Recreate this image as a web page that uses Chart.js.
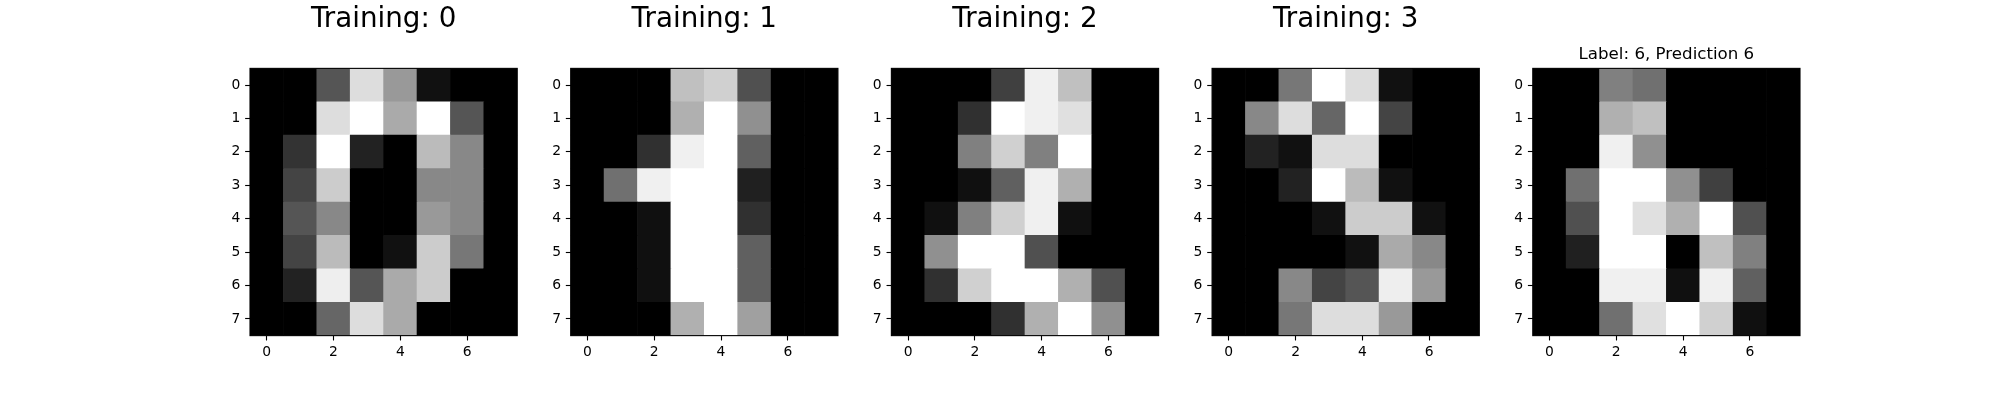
<!DOCTYPE html>
<html>
<head>
<meta charset="utf-8">
<script src="https://cdn.jsdelivr.net/npm/chart.js@4.4.0/dist/chart.umd.min.js"></script>
<style>
body{margin:0;background:#fff;}
#quadro{position:relative;width:2000px;height:400px;}
canvas{position:absolute;left:0;top:0;}
</style>
</head>
<body>
<div id="quadro"></div>
<script>
const titulos = ["Training: 0", "Training: 1", "Training: 2", "Training: 3", "Label: 6, Prediction 6"];

const digito0 = [
    [0, 0, 5, 13, 9, 1, 0, 0],
    [0, 0, 13, 15, 10, 15, 5, 0],
    [0, 3, 15, 2, 0, 11, 8, 0],
    [0, 4, 12, 0, 0, 8, 8, 0],
    [0, 5, 8, 0, 0, 9, 8, 0],
    [0, 4, 11, 0, 1, 12, 7, 0],
    [0, 2, 14, 5, 10, 12, 0, 0],
    [0, 0, 6, 13, 10, 0, 0, 0]
];
const digito1 = [
    [0, 0, 0, 12, 13, 5, 0, 0],
    [0, 0, 0, 11, 16, 9, 0, 0],
    [0, 0, 3, 15, 16, 6, 0, 0],
    [0, 7, 15, 16, 16, 2, 0, 0],
    [0, 0, 1, 16, 16, 3, 0, 0],
    [0, 0, 1, 16, 16, 6, 0, 0],
    [0, 0, 1, 16, 16, 6, 0, 0],
    [0, 0, 0, 11, 16, 10, 0, 0]
];
const digito2 = [
    [0, 0, 0, 4, 15, 12, 0, 0],
    [0, 0, 3, 16, 15, 14, 0, 0],
    [0, 0, 8, 13, 8, 16, 0, 0],
    [0, 0, 1, 6, 15, 11, 0, 0],
    [0, 1, 8, 13, 15, 1, 0, 0],
    [0, 9, 16, 16, 5, 0, 0, 0],
    [0, 3, 13, 16, 16, 11, 5, 0],
    [0, 0, 0, 3, 11, 16, 9, 0]
];
const digito3 = [
    [0, 0, 7, 15, 13, 1, 0, 0],
    [0, 8, 13, 6, 15, 4, 0, 0],
    [0, 2, 1, 13, 13, 0, 0, 0],
    [0, 0, 2, 15, 11, 1, 0, 0],
    [0, 0, 0, 1, 12, 12, 1, 0],
    [0, 0, 0, 0, 1, 10, 8, 0],
    [0, 0, 8, 4, 5, 14, 9, 0],
    [0, 0, 7, 13, 13, 9, 0, 0]
];
const previsto6 = [
    [0, 0, 8, 7, 0, 0, 0, 0],
    [0, 0, 11, 12, 0, 0, 0, 0],
    [0, 0, 15, 9, 0, 0, 0, 0],
    [0, 7, 16, 16, 9, 4, 0, 0],
    [0, 5, 16, 14, 11, 16, 5, 0],
    [0, 2, 16, 16, 0, 12, 8, 0],
    [0, 0, 15, 15, 1, 15, 6, 0],
    [0, 0, 7, 14, 16, 13, 1, 0]
];

const imagens = [digito0, digito1, digito2, digito3, previsto6];
const ticksX = [0, 2, 4, 6];
const ticksY = [0, 1, 2, 3, 4, 5, 6, 7];

// geometria das subplots (figura 20x4 pol, 100 dpi, 1x5)
const lado = 1550 / 5.8;
const espaco = lado * 0.2;
const topo = 202 - lado / 2;
const base = topo + lado;
const largEixoY = 50;
const altEixoX = 40;
const fonte = "DejaVu Sans";

// cmap 'gray' do matplotlib, normalizado pelo máximo da imagem
function cinza(v, max){
    const i = Math.min(255, Math.floor(v / max * 256));
    return `rgb(${i},${i},${i})`;
}

const moldura = {
    id: "moldura",
    afterDraw(chart){
        const {ctx, chartArea: a} = chart;
        ctx.save();
        ctx.strokeStyle = "#000";
        ctx.lineWidth = 1.11;
        ctx.strokeRect(a.left, a.top, a.right - a.left, a.bottom - a.top);
        ctx.restore();
    }
};

imagens.forEach((img, k) => {
    const canvas = document.createElement("canvas");
    canvas.width = 2000;
    canvas.height = 400;
    document.getElementById("quadro").appendChild(canvas);

    const max = Math.max(...img.flat());
    const pontos = [];
    const cores = [];
    img.forEach((linha, r) => {
        linha.forEach((v, c) => {
            pontos.push({x: c, y: [r - 0.5, r + 0.5]});
            cores.push(cinza(v, max));
        });
    });

    const esquerda = 250 + k * (lado + espaco);
    const pequeno = k === imagens.length - 1;
    const tamTitulo = pequeno ? 16.67 : 27.78;
    const linhaBase = pequeno ? topo - 8.33 : 28.3;
    const meio = linhaBase - 0.297 * tamTitulo;
    const padTopo = meio - tamTitulo * 0.6;
    const padTitulo = topo - padTopo - tamTitulo * 1.2;

    new Chart(canvas, {
        type: "bar",
        data: {
            datasets: [{
                data: pontos,
                backgroundColor: cores,
                borderWidth: 0,
                barPercentage: 1,
                categoryPercentage: 1
            }]
        },
        options: {
            responsive: false,
            animation: false,
            layout: {
                padding: {
                    left: esquerda - largEixoY,
                    right: 2000 - esquerda - lado - largEixoY,
                    top: padTopo,
                    bottom: 400 - base - altEixoX
                }
            },
            plugins: {
                legend: {display: false},
                tooltip: {enabled: false},
                title: {
                    display: true,
                    text: titulos[k],
                    color: "#000",
                    font: {family: fonte, size: tamTitulo, weight: "normal", lineHeight: 1.2},
                    padding: {top: 0, bottom: padTitulo}
                }
            },
            scales: {
                x: {
                    type: "linear",
                    min: -0.5,
                    max: 7.5,
                    offset: false,
                    afterBuildTicks: s => { s.ticks = ticksX.map(v => ({value: v})); },
                    afterFit: s => { s.height = altEixoX; },
                    border: {display: false},
                    grid: {drawOnChartArea: false, offset: false, tickLength: 4.86, tickColor: "#000", tickWidth: 1.11},
                    ticks: {color: "#000", padding: 3.8, autoSkip: false, maxRotation: 0,
                        font: {family: fonte, size: 13.89}, callback: v => String(v)}
                },
                y: {
                    type: "linear",
                    min: -0.5,
                    max: 7.5,
                    reverse: true,
                    afterBuildTicks: s => { s.ticks = ticksY.map(v => ({value: v})); },
                    afterFit: s => { s.width = largEixoY; },
                    border: {display: false},
                    grid: {drawOnChartArea: false, tickLength: 4.86, tickColor: "#000", tickWidth: 1.11},
                    ticks: {color: "#000", padding: 4.86, autoSkip: false,
                        font: {family: fonte, size: 13.89}, callback: v => String(v)}
                },
                // eixo vazio à direita só para o título ficar centrado sobre a imagem
                yVazio: {
                    type: "linear",
                    position: "right",
                    min: -0.5,
                    max: 7.5,
                    afterFit: s => { s.width = largEixoY; },
                    border: {display: false},
                    grid: {display: false},
                    ticks: {display: false}
                }
            }
        },
        plugins: [moldura]
    });
});
</script>
</body>
</html>
